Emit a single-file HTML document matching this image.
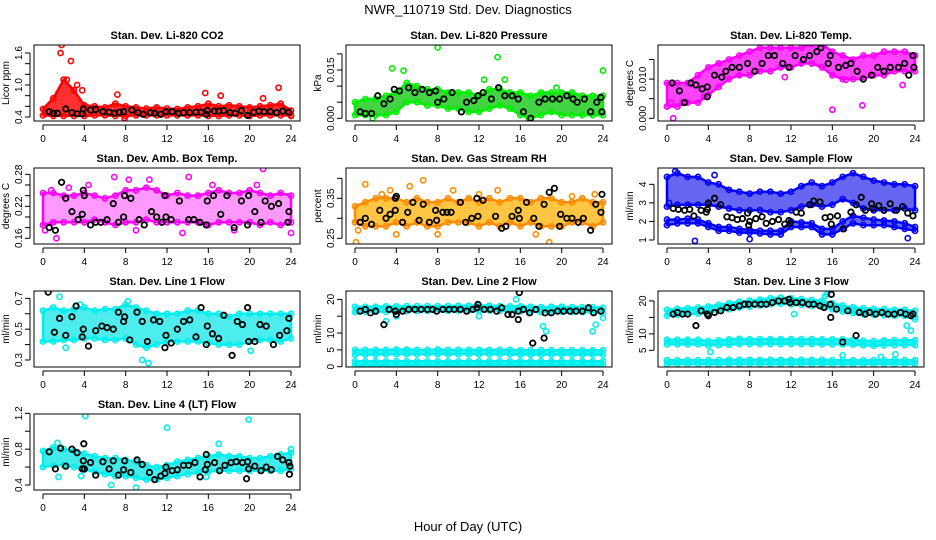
<!DOCTYPE html>
<html><head><meta charset="utf-8">
<style>
html,body{margin:0;padding:0;background:#fff;}
svg{display:block;font-family:"Liberation Sans",Arial,sans-serif;}
</style></head>
<body>
<svg id="chart" width="936" height="540" viewBox="0 0 936 540">
<text x="468" y="14" text-anchor="middle" font-size="13">NWR_110719  Std. Dev. Diagnostics</text>
<text x="468" y="531" text-anchor="middle" font-size="13">Hour of Day (UTC)</text>
</svg>
<script>
// ---- shared data ----
const hours = [0,1,2,3,4,5,6,7,8,9,10,11,12,13,14,15,16,17,18,19,20,21,22,23,24];
const xTicks = [0,4,8,12,16,20,24];

// Panel 1: Li-820 CO2
const co2Lo = [0.43,0.42,0.42,0.42,0.42,0.43,0.43,0.42,0.42,0.43,0.43,0.43,0.43,0.43,0.43,0.43,0.42,0.42,0.43,0.43,0.42,0.43,0.43,0.43,0.43];
const co2Hi = [0.55,0.75,1.1,0.9,0.62,0.6,0.58,0.65,0.6,0.58,0.56,0.58,0.56,0.55,0.58,0.6,0.65,0.6,0.62,0.6,0.58,0.6,0.62,0.65,0.52];
const co2OutX = [1.8,1.7,2.7,2.3,3.3,3.8,7.2,15.7,17.2,22.8,21.3,7.9,24];
const co2OutY = [1.75,1.6,1.45,1.1,1.0,0.9,0.82,0.85,0.8,0.95,0.75,0.38,0.42];
const co2BlkX = [0.6,1,1.4,2.2,2.8,3.3,3.8,3.9,4.6,5.1,5.8,6.4,6.9,7.4,7.8,8.6,9.2,9.7,10.4,10.8,11.4,11.9,12.5,13.1,13.6,14.2,14.8,15.3,15.8,15.9,16.6,17,17.5,18.1,18.6,19.2,19.8,20.4,20.9,21.4,22,22.6,23.2,23.8];
const co2BlkY = [0.5,0.47,0.47,0.55,0.48,0.46,0.46,0.55,0.53,0.54,0.5,0.49,0.47,0.49,0.5,0.53,0.48,0.45,0.48,0.47,0.45,0.5,0.5,0.47,0.48,0.48,0.49,0.49,0.45,0.52,0.51,0.51,0.52,0.48,0.47,0.52,0.43,0.49,0.51,0.5,0.5,0.48,0.51,0.49];

// Panel 2: Li-820 Pressure
const prLo = [0.001,0.001,0.001,0.001,0.002,0.005,0.005,0.004,0.004,0.003,0.003,0.002,0.002,0.003,0.004,0.003,0.001,0.000,0.001,0.002,0.001,0.001,0.001,0.001,0.001];
const prHi = [0.005,0.006,0.006,0.007,0.008,0.011,0.010,0.009,0.009,0.008,0.008,0.008,0.007,0.009,0.009,0.008,0.008,0.007,0.008,0.008,0.008,0.008,0.007,0.007,0.007];
const prOutX = [8,13.8,3.6,4.7,24,12.5,14.5,19.5,1.7,16.8];
const prOutY = [0.022,0.019,0.0155,0.0148,0.0148,0.012,0.012,0.0095,0.0,0.0];
const prBlkX = [0.5,1,1.6,2.2,2.8,3.4,3.8,4.3,5.2,5.8,6.5,7.2,7.8,8,8.6,9.4,10.3,10.8,11.5,11.9,12.4,13.2,13.9,14.5,15.2,15.8,16.3,17,17.8,18.4,19.1,19.8,20.5,21.1,21.5,22.2,22.8,23.4,23.8,23.9];
const prBlkY = [0.002,0.0015,0.0015,0.007,0.0045,0.006,0.009,0.0085,0.0095,0.008,0.009,0.008,0.0085,0.005,0.006,0.008,0.002,0.005,0.0055,0.007,0.008,0.006,0.0095,0.007,0.007,0.006,0.002,0.0,0.005,0.006,0.006,0.006,0.007,0.006,0.005,0.006,0.002,0.005,0.0065,0.002];

// Panel 3: Li-820 Temp
const tpLo = [0.003,0.003,0.004,0.004,0.006,0.008,0.010,0.011,0.011,0.012,0.012,0.013,0.013,0.014,0.014,0.013,0.011,0.010,0.010,0.010,0.011,0.011,0.012,0.012,0.012];
const tpHi = [0.009,0.009,0.009,0.011,0.013,0.014,0.015,0.016,0.017,0.018,0.018,0.018,0.018,0.018,0.019,0.019,0.017,0.016,0.015,0.016,0.016,0.017,0.017,0.017,0.016];
const tpOutX = [0.6,0.4,1.5,16,18.9,15,3.6,11.4,22.8,17.3];
const tpOutY = [0.0,0.004,0.004,0.0022,0.0033,0.021,0.0055,0.0105,0.0085,0.0098];
const tpBlkX = [0.5,1.2,1.7,2.3,2.8,3.4,3.9,3.9,4.6,5.3,5.7,6.3,7,7.8,8.5,9.2,9.8,10.4,11.2,11.8,12.4,13.2,13.8,14.5,14.9,15.6,15.8,16.6,17.3,17.8,18.4,19,19.8,20.4,21,21.6,22.4,23,23.4,23.9,23.8];
const tpBlkY = [0.009,0.007,0.004,0.009,0.0085,0.0075,0.008,0.0055,0.011,0.0105,0.012,0.013,0.013,0.014,0.012,0.014,0.016,0.016,0.014,0.013,0.016,0.015,0.016,0.017,0.018,0.014,0.016,0.013,0.0135,0.014,0.012,0.010,0.011,0.013,0.012,0.013,0.013,0.014,0.011,0.013,0.016];

// Panel 4: Amb. Box Temp
const abLo = [0.185,0.19,0.19,0.19,0.19,0.195,0.19,0.185,0.19,0.19,0.195,0.19,0.19,0.19,0.19,0.19,0.185,0.19,0.19,0.19,0.19,0.185,0.19,0.185,0.19];
const abHi = [0.245,0.245,0.24,0.24,0.245,0.24,0.235,0.24,0.25,0.25,0.255,0.25,0.24,0.245,0.24,0.24,0.245,0.25,0.245,0.245,0.25,0.245,0.24,0.245,0.24];
const abOutX = [0.8,1.3,6.9,8.3,10.3,14.1,21.3,18.5,13.5,24,4.4,20.7,0.2,2.5,9.0,16.4];
const abOutY = [0.25,0.16,0.275,0.27,0.27,0.275,0.29,0.175,0.17,0.17,0.26,0.26,0.175,0.255,0.175,0.26];
const abBlkX = [0.6,1.2,1.8,2.2,2.8,3.4,3.8,3.9,4,4.6,5.1,5.6,6.2,6.8,7.3,7.8,7.9,8.5,9.3,9.8,10.5,11,11.5,11.8,11.9,12.4,13.2,14.1,14.6,15.2,15.8,15.9,16.5,17.2,17.8,18.5,19.2,19.8,19.9,20.5,21.1,21.5,22.1,22.8,23.7,23.8];
const abBlkY = [0.18,0.175,0.265,0.235,0.21,0.195,0.205,0.25,0.24,0.185,0.19,0.19,0.195,0.225,0.19,0.2,0.24,0.235,0.195,0.185,0.21,0.2,0.19,0.24,0.2,0.195,0.23,0.195,0.195,0.19,0.185,0.23,0.24,0.205,0.24,0.18,0.23,0.185,0.24,0.21,0.19,0.23,0.22,0.225,0.19,0.21];

// Panel 5: Gas Stream RH
const rhLo = [0.29,0.28,0.28,0.28,0.29,0.28,0.29,0.28,0.28,0.29,0.29,0.29,0.28,0.29,0.28,0.29,0.28,0.29,0.28,0.28,0.28,0.29,0.29,0.28,0.29];
const rhHi = [0.33,0.34,0.35,0.35,0.35,0.34,0.35,0.34,0.34,0.35,0.34,0.35,0.34,0.35,0.34,0.35,0.35,0.34,0.35,0.35,0.34,0.34,0.35,0.34,0.34];
const rhOutX = [0.1,1,5.3,6.6,9.5,3.4,13.8,18.8,23.2,4,17.5,8,0.3,2.6,12,21];
const rhOutY = [0.24,0.385,0.38,0.395,0.37,0.37,0.37,0.24,0.36,0.26,0.26,0.26,0.27,0.36,0.36,0.355];
const rhBlkX = [0.5,1,1.6,2.4,3,3.4,3.9,3.9,4,4.6,5.1,5.6,6.2,6.6,7.2,7.8,7.9,8.5,8.9,9.3,10.2,10.7,11.3,11.8,11.9,12.4,13.6,14.2,14.6,15.2,15.8,15.9,16.6,17.3,17.8,18.3,18.8,19.3,19.8,19.9,20.5,21,21.6,22.1,22.8,23.3,23.8,23.9];
const rhBlkY = [0.29,0.3,0.285,0.32,0.3,0.31,0.35,0.32,0.355,0.29,0.315,0.34,0.295,0.335,0.29,0.32,0.295,0.315,0.315,0.315,0.34,0.29,0.3,0.35,0.305,0.345,0.305,0.275,0.28,0.305,0.32,0.3,0.34,0.3,0.28,0.335,0.365,0.375,0.28,0.31,0.3,0.3,0.29,0.3,0.27,0.335,0.315,0.36];

// Panel 6: Sample Flow
const sfUpLo = [2.8,2.9,2.9,2.9,2.9,2.8,2.7,2.6,2.6,2.6,2.5,2.5,2.6,2.8,2.9,2.8,2.9,3.2,3.0,2.7,2.6,2.6,2.6,2.7,2.6];
const sfUpHi = [4.4,4.6,4.4,4.4,4.1,4.0,3.7,3.6,3.5,3.6,3.6,3.5,3.6,3.9,4.1,3.9,4.1,4.4,4.6,4.4,4.2,4.1,4.0,4.0,3.9];
const sfLowLo = [1.8,1.9,1.9,1.9,1.7,1.5,1.5,1.4,1.4,1.35,1.3,1.3,1.7,1.7,1.7,1.3,1.3,1.6,1.9,1.8,1.8,1.8,1.7,1.6,1.5];
const sfLowHi = [2.1,2.1,2.15,2.1,1.9,1.7,1.7,1.6,1.55,1.5,1.5,1.5,2.0,1.95,1.9,1.6,1.6,2.0,2.3,2.2,2.1,2.05,2.0,1.9,1.7];
const sfOutX = [2.7,8,23.3,4.6,0.2,0.8,24];
const sfOutY = [0.95,1.05,1.1,4.5,3.0,4.7,1.5];
const sfBlkX = [0.6,1.1,1.7,2.2,2.6,3.3,3.8,3.9,4,4.6,5.2,5.8,6.3,6.8,7.3,7.8,7.9,8,8.6,9.2,9.6,10.2,10.8,11.4,11.8,11.9,12.5,13,13.8,14.2,14.8,15.3,15.8,15.9,16.5,17.1,17.8,18.3,18.8,19.2,19.8,19.9,20.5,21,21.6,22.2,22.8,23.3,23.8];
const sfBlkY = [2.7,2.65,2.6,2.65,2.3,2.6,2.5,2.65,3.0,3.25,2.9,2.25,2.2,2.1,2.15,2.45,1.8,2.0,2.15,2.25,1.9,2.0,2.1,1.85,2.05,1.9,2.5,2.45,2.9,3.1,3.05,2.2,2.25,1.85,2.3,1.6,2.5,2.9,3.3,2.6,2.95,2.7,2.85,2.6,2.95,2.6,2.8,2.45,2.3];

// Panel 7: Line 1 Flow
const l1Lo = [0.42,0.42,0.43,0.43,0.44,0.44,0.43,0.43,0.44,0.40,0.38,0.40,0.42,0.42,0.42,0.42,0.41,0.40,0.40,0.40,0.42,0.43,0.43,0.42,0.44];
const l1Hi = [0.62,0.64,0.62,0.63,0.64,0.62,0.63,0.63,0.66,0.64,0.62,0.60,0.60,0.60,0.62,0.62,0.60,0.60,0.58,0.60,0.60,0.60,0.60,0.60,0.60];
const l1OutX = [1.6,9.6,10.2,3.6,2.2,8.2,20.1];
const l1OutY = [0.71,0.3,0.28,0.66,0.38,0.68,0.36];
const l1BlkX = [0.5,1.1,1.6,2.2,2.8,3.2,3.8,3.9,4.4,5.1,5.7,6.2,6.8,7.3,7.8,7.9,8.4,9.1,9.6,10.1,10.7,11.3,11.8,11.9,12.4,13,13.6,14.2,14.8,15.3,15.8,15.9,16.4,17,17.5,18.3,18.8,19.3,19.8,19.9,20.5,21,21.6,22.3,22.9,23.6,23.8];
const l1BlkY = [0.74,0.48,0.57,0.46,0.58,0.65,0.45,0.5,0.39,0.49,0.52,0.51,0.5,0.61,0.55,0.58,0.43,0.61,0.55,0.42,0.56,0.55,0.38,0.46,0.41,0.5,0.55,0.56,0.45,0.64,0.4,0.52,0.47,0.44,0.59,0.33,0.55,0.53,0.64,0.42,0.42,0.53,0.52,0.4,0.46,0.49,0.57];

// Panel 8: Line 2 Flow
const l2TopLo = [16.2,16.3,16.3,16.3,16.3,16.5,16.5,16.6,16.6,16.6,16.7,16.7,16.7,16.7,16.6,16.5,16.5,16.3,16.2,16.3,16.3,16.2,16.2,16.2,16.0];
const l2TopHi = [17.8,17.8,17.8,17.9,17.9,18.0,18.0,18.0,18.0,18.0,18.1,18.1,18.2,18.1,18.0,17.9,17.9,17.8,17.7,17.8,17.8,17.7,17.7,17.7,17.5];
const l2MidLo = [3.6,3.6,3.6,3.7,3.7,3.7,3.7,3.7,3.7,3.7,3.7,3.7,3.7,3.7,3.7,3.7,3.6,3.6,3.6,3.6,3.6,3.6,3.6,3.6,3.6];
const l2MidHi = [5.0,5.0,5.0,5.0,5.1,5.1,5.0,5.0,5.1,5.0,5.0,5.0,5.0,5.0,5.0,5.0,4.9,4.9,4.9,4.9,4.9,4.9,4.9,4.9,4.9];
const l2BotLo = [0.3,0.3,0.3,0.3,0.3,0.3,0.3,0.3,0.3,0.3,0.3,0.3,0.3,0.3,0.3,0.3,0.3,0.3,0.3,0.3,0.3,0.3,0.3,0.3,0.3];
const l2BotHi = [1.6,1.6,1.6,1.6,1.6,1.6,1.6,1.6,1.6,1.6,1.6,1.6,1.6,1.6,1.6,1.6,1.6,1.6,1.6,1.6,1.6,1.6,1.6,1.6,1.6];
const l2OutX = [15.6,3,18.2,18.5,23,23.3,24,4,12];
const l2OutY = [20,13.5,12,10.5,10.5,12.5,14.5,15,15];
const l2BlkX = [0.5,1,1.5,2,2.8,3.3,3.9,4,4.6,5.2,5.8,6.4,7,7.5,7.9,8.5,9.1,9.6,10.2,10.8,11.4,11.8,11.9,12.5,13.1,13.7,14.2,14.8,15.2,15.8,15.8,15.9,16.3,16.9,17.2,17.5,18.3,18.4,19,19.6,20.2,20.8,21.4,22,22.6,23.1,23.8];
const l2BlkY = [16.5,17,16,16.5,12.5,17,16.5,15.5,16.5,17,17,17,17,17,16.5,17,17,17,17,16.5,17,17.5,18.5,17,17,16.5,17.5,15.5,15.5,16.5,14,22,17,16,7,17,8.5,16,16,16.5,16.5,16.5,16.5,16.5,17.5,16,16.5];

// Panel 9: Line 3 Flow
const l3TopLo = [15.5,15.8,16,16.2,16.5,17,17.5,18,18.3,18.6,19,19.2,19,18.8,18.5,18.2,17.5,16.8,16.3,16,15.8,15.7,15.5,15.5,15.2];
const l3TopHi = [17.3,17.6,17.8,18,18.3,18.8,19.3,19.8,20.1,20.4,20.8,21,20.8,20.6,20.3,20,19.3,18.6,18.1,17.8,17.6,17.5,17.3,17.3,17];
const l3MidLo = [6.8,6.8,6.8,6.8,6.5,6.6,6.7,6.9,6.9,6.9,6.9,6.9,6.9,6.9,6.9,6.8,6.8,6.8,6.7,6.5,6.4,6.5,6.6,6.6,6.6];
const l3MidHi = [8.2,8.2,8.2,8.2,7.8,8.0,8.3,8.5,8.4,8.4,8.4,8.4,8.4,8.4,8.4,8.3,8.3,8.3,8.2,7.9,7.8,8.0,8.1,8.1,8.1];
const l3BotLo = [0.8,0.8,0.8,0.8,0.8,0.8,0.8,0.8,0.8,0.8,0.8,0.8,0.8,0.8,0.8,0.8,0.8,0.8,0.8,0.8,0.8,0.8,0.8,0.8,0.8];
const l3BotHi = [2.0,2.0,2.0,2.0,2.0,2.0,2.1,2.1,2.1,2.1,2.1,2.1,2.1,2.1,2.1,2.1,2.0,2.0,2.0,2.0,2.0,2.0,2.0,2.0,2.0];
const l3OutX = [15.5,15.3,4.2,17.0,20.7,22.1,23.6,23.2,24,12.3];
const l3OutY = [22,21.5,4.5,3.5,3.0,3.8,11,12.5,14.5,16];
const l3BlkX = [0.6,1,1.5,2,2.8,3.3,3.9,4,4.6,5.2,5.8,6.4,7,7.5,7.9,8.5,9.1,9.6,10.2,10.8,11.4,11.8,11.9,12.5,13.1,13.7,14.2,14.8,15.2,15.8,15.9,15.85,16.4,17,17.5,18.3,18.6,19.2,19.6,20.2,20.8,21.4,22,22.6,23.1,23.6,23.8];
const l3BlkY = [16,16.5,16,16,12.5,17,16,15.5,16.5,17,18,18,18.5,19,19,19,19,19,19.5,20,20,20.5,19.5,19.5,19.5,19,19,18.5,18,19,22,15,17.5,7.5,17,9.5,16.5,16,16.5,16,16.5,16,16,16.5,16,15.5,16];

// Panel 10: Line 4 (LT) Flow
const l4Lo = [0.6,0.62,0.62,0.6,0.57,0.55,0.52,0.5,0.5,0.48,0.46,0.46,0.48,0.5,0.52,0.54,0.55,0.56,0.56,0.56,0.56,0.56,0.56,0.56,0.58];
const l4Hi = [0.78,0.82,0.8,0.78,0.75,0.72,0.7,0.7,0.68,0.66,0.62,0.6,0.62,0.66,0.68,0.7,0.72,0.74,0.72,0.72,0.7,0.7,0.72,0.74,0.76];
const l4OutX = [4.1,19.9,12,9,6.6,17,1.4,24,1.5,3.7,15.8];
const l4OutY = [1.17,1.13,1.04,0.37,0.4,0.86,0.87,0.8,0.49,0.5,0.49];
const l4BlkX = [0.6,1.2,1.7,2.2,2.8,3.3,3.8,3.9,3.95,4,4.6,5.1,5.8,6.4,6.8,7.3,7.8,7.9,8.5,9.1,9.6,10.3,10.8,11.4,11.8,11.9,12.5,13,13.6,14.1,14.7,15.2,15.7,15.8,15.9,16.6,17.1,17.6,18.2,18.7,19.3,19.7,19.8,19.9,20.5,21.1,21.6,22.1,22.7,23.2,23.8,23.85,23.9];
const l4BlkY = [0.77,0.58,0.81,0.61,0.8,0.76,0.58,0.67,0.86,0.58,0.65,0.51,0.66,0.58,0.67,0.51,0.57,0.67,0.54,0.68,0.63,0.54,0.46,0.5,0.53,0.6,0.56,0.57,0.62,0.62,0.65,0.49,0.57,0.74,0.63,0.65,0.56,0.62,0.65,0.66,0.65,0.47,0.66,0.58,0.61,0.56,0.6,0.57,0.72,0.68,0.65,0.52,0.61];

// ---- layout (not data) ----
const panels = [
 {name:'li820-co2',title:'Stan. Dev. Li-820 CO2',ylab:'Licor ppm',col:0,row:0,v0:0.4,y0:117,k:53.33,ticks:[0.4,0.6,0.8,1.0,1.2,1.4,1.6],labels:['0.4','1.0','1.6'],fmt:1,
  color:'#ff0000',fill:'#ff1a1a',op:0.9,bands:[[co2Lo,co2Hi]],outX:co2OutX,outY:co2OutY,bx:co2BlkX,by:co2BlkY},
 {name:'li820-pressure',title:'Stan. Dev. Li-820 Pressure',ylab:'kPa',col:1,row:0,v0:0,y0:118.3,k:3220,ticks:[0,0.005,0.010,0.015,0.020],labels:['0.000','0.015'],fmt:3,
  color:'#00ee00',fill:'#22cc22',op:0.85,bands:[[prLo,prHi]],outX:prOutX,outY:prOutY,bx:prBlkX,by:prBlkY},
 {name:'li820-temp',title:'Stan. Dev. Li-820 Temp.',ylab:'degrees C',col:2,row:0,v0:0,y0:118.3,k:3920,ticks:[0,0.005,0.010,0.015],labels:['0.000','0.010'],fmt:3,
  color:'#ff00ff',fill:'#ff22ff',op:0.85,bands:[[tpLo,tpHi]],outX:tpOutX,outY:tpOutY,bx:tpBlkX,by:tpBlkY},
 {name:'amb-box-temp',title:'Stan. Dev. Amb. Box Temp.',ylab:'degrees C',col:0,row:1,v0:0.16,y0:238.3,k:533.3,ticks:[0.16,0.18,0.20,0.22,0.24,0.26,0.28],labels:['0.16','0.22','0.28'],fmt:2,
  color:'#ff00ff',fill:'#ff55ff',op:0.6,bands:[[abLo,abHi]],outX:abOutX,outY:abOutY,bx:abBlkX,by:abBlkY},
 {name:'gas-stream-rh',title:'Stan. Dev. Gas Stream RH',ylab:'percent',col:1,row:1,v0:0.25,y0:238.3,k:400,ticks:[0.25,0.30,0.35,0.40],labels:['0.25','0.35'],fmt:2,
  color:'#ff8c00',fill:'#ffbb22',op:0.85,bands:[[rhLo,rhHi]],outX:rhOutX,outY:rhOutY,bx:rhBlkX,by:rhBlkY},
 {name:'sample-flow',title:'Stan. Dev. Sample Flow',ylab:'ml/min',col:2,row:1,v0:1,y0:240,k:18.56,ticks:[1,2,3,4],labels:['1','2','3','4'],fmt:0,
  color:'#0000ff',fill:'#3333ee',op:0.75,bands:[[sfUpLo,sfUpHi],[sfLowLo,sfLowHi]],outX:sfOutX,outY:sfOutY,bx:sfBlkX,by:sfBlkY},
 {name:'line1-flow',title:'Stan. Dev. Line 1 Flow',ylab:'ml/min',col:0,row:2,v0:0.3,y0:360,k:154.2,ticks:[0.3,0.4,0.5,0.6,0.7],labels:['0.3','0.5','0.7'],fmt:1,
  color:'#00eeee',fill:'#22e8e8',op:0.8,bands:[[l1Lo,l1Hi]],outX:l1OutX,outY:l1OutY,bx:l1BlkX,by:l1BlkY},
 {name:'line2-flow',title:'Stan. Dev. Line 2 Flow',ylab:'ml/min',col:1,row:2,v0:0,y0:366.7,k:3.367,ticks:[0,5,10,15,20],labels:['0','5','10','20'],fmt:0,
  color:'#00eeee',fill:'#11eeee',op:0.9,bands:[[l2TopLo,l2TopHi],[l2MidLo,l2MidHi],[l2BotLo,l2BotHi]],outX:l2OutX,outY:l2OutY,bx:l2BlkX,by:l2BlkY},
 {name:'line3-flow',title:'Stan. Dev. Line 3 Flow',ylab:'ml/min',col:2,row:2,v0:5,y0:350.3,k:3.29,ticks:[5,10,15,20],labels:['5','10','20'],fmt:0,
  color:'#00eeee',fill:'#11eeee',op:0.9,bands:[[l3TopLo,l3TopHi],[l3MidLo,l3MidHi],[l3BotLo,l3BotHi]],outX:l3OutX,outY:l3OutY,bx:l3BlkX,by:l3BlkY},
 {name:'line4-flow',title:'Stan. Dev. Line 4 (LT) Flow',ylab:'ml/min',col:0,row:3,v0:0.4,y0:485,k:89.6,ticks:[0.4,0.6,0.8,1.0,1.2],labels:['0.4','0.8','1.2'],fmt:1,
  color:'#00eeee',fill:'#22e8e8',op:0.85,bands:[[l4Lo,l4Hi]],outX:l4OutX,outY:l4OutY,bx:l4BlkX,by:l4BlkY}
];

const NS = 'http://www.w3.org/2000/svg';
const svg = document.getElementById('chart');
function mk(tag, attrs, parent){
  const e = document.createElementNS(NS, tag);
  for (const k in attrs) e.setAttribute(k, attrs[k]);
  (parent||svg).appendChild(e);
  return e;
}
const colLeft = [34,346,658], rowTop = [45,168,291,414], W = 266, H = 76;

panels.forEach(p => {
  const L = colLeft[p.col], T = rowTop[p.row], B = T + H;
  const xs = h => L + 9 + h * (248/24);
  const ys = v => p.y0 - (v - p.v0) * p.k;
  const g = mk('g', {});
  
  
  const clipId = 'clip-' + p.name;
  const cp = mk('clipPath', {id: clipId}, g);
  mk('rect', {x: L, y: T, width: W, height: H}, cp);
  const plot = mk('g', {'clip-path': 'url(#' + clipId + ')'}, g);
  
  
  p.bands.forEach((b, bi) => {
    const lo = b[0], hi = b[1];
    let d = '';
    hours.forEach((h, i) => { d += (i ? 'L' : 'M') + xs(h).toFixed(1) + ',' + ys(hi[i]).toFixed(1); });
    for (let i = hours.length - 1; i >= 0; i--) d += 'L' + xs(hours[i]).toFixed(1) + ',' + ys(lo[i]).toFixed(1);
    const area = mk('path', {d: d + 'Z', fill: p.fill, 'fill-opacity': p.op, stroke: p.color, 'stroke-width': 2.5, 'stroke-linejoin': 'round'}, plot);
    
    
    hours.forEach((h, i) => {
      [lo[i], hi[i]].forEach(v => {
        const c = mk('circle', {cx: xs(h), cy: ys(v), r: 2.6, fill: 'none', stroke: p.color, 'stroke-width': 1.6}, plot);
        
        
      });
    });
  });
  p.outX.forEach((h, i) => {
    const c = mk('circle', {cx: xs(h), cy: ys(p.outY[i]), r: 2.6, fill: 'none', stroke: p.color, 'stroke-width': 1.6}, plot);
    
    
  });
  p.bx.forEach((h, i) => {
    const c = mk('circle', {cx: xs(h), cy: ys(p.by[i]), r: 2.7, fill: 'none', stroke: '#000', 'stroke-width': 1.8}, plot);
    
    
  });
  const fr = mk('rect', {x: L, y: T, width: W, height: H, fill: 'none', stroke: '#000', 'stroke-width': 1}, g);
  
  
  const tt = mk('text', {x: L + W/2, y: T - 6, 'text-anchor': 'middle', 'font-size': 11, 'font-weight': 'bold'}, g);
  tt.textContent = p.title;
  
  
  const xa = mk('g', {}, g);
  
  
  mk('line', {x1: xs(xTicks[0]), x2: xs(xTicks[xTicks.length-1]), y1: B + 4, y2: B + 4, stroke: '#000'}, xa);
  xTicks.forEach(t => {
    mk('line', {x1: xs(t), x2: xs(t), y1: B + 4, y2: B + 9, stroke: '#000'}, xa);
    const tx = mk('text', {x: xs(t), y: B + 21, 'text-anchor': 'middle', 'font-size': 10}, xa);
    tx.textContent = t;
  });
  const ya = mk('g', {}, g);
  
  
  const tv = p.ticks.filter(t => ys(t) >= T - 1 && ys(t) <= B + 1);
  mk('line', {x1: L - 4, x2: L - 4, y1: ys(tv[0]), y2: ys(tv[tv.length-1]), stroke: '#000'}, ya);
  tv.forEach(t => {
    mk('line', {x1: L - 4, x2: L - 9, y1: ys(t), y2: ys(t), stroke: '#000'}, ya);
    const s = t.toFixed(p.fmt);
    if (p.labels.indexOf(s) >= 0) {
      const tx = mk('text', {x: L - 12, y: ys(t), 'text-anchor': 'middle', 'font-size': 10, transform: 'rotate(-90 ' + (L - 12) + ' ' + ys(t) + ')'}, ya);
      tx.textContent = s;
    }
  });
  const yl = mk('text', {x: L - 25, y: T + H/2, 'text-anchor': 'middle', 'font-size': 10, transform: 'rotate(-90 ' + (L - 25) + ' ' + (T + H/2) + ')'}, g);
  yl.textContent = p.ylab;
  
  
});
</script>
</body></html>
